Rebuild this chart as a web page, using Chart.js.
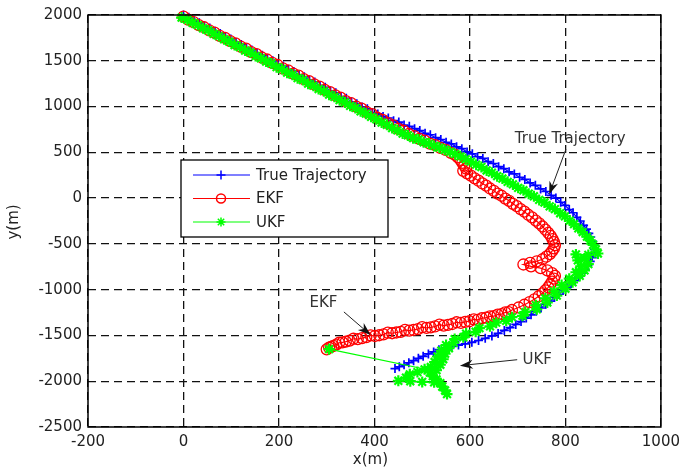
<!DOCTYPE html>
<html><head><meta charset="utf-8">
<script src="https://cdn.jsdelivr.net/npm/chart.js@4.4.1/dist/chart.umd.min.js"></script>
<style>html,body{margin:0;padding:0;background:#fff}#wrap{width:686px;height:475px}</style>
</head><body><div id="wrap"><canvas id="c" width="686" height="475"></canvas></div>
<script>
const xTicks = [-200, 0, 200, 400, 600, 800, 1000];
const yTicks = [-2500, -2000, -1500, -1000, -500, 0, 500, 1000, 1500, 2000];
const seriesNames = ['True Trajectory', 'EKF', 'UKF'];
const xTitle = 'x(m)';
const yTitle = 'y(m)';

const trueTrajectory = [[0,2000],[11,1975],[22,1938],[33,1915],[44,1880],[55,1858],[66,1822],[77,1798],[88,1760],[99,1738],[110,1700],[121,1678],[132,1640],[143,1618],[154,1582],[165,1560],[176,1522],[187,1500],[198,1462],[209,1442],[220,1404],[231,1384],[242,1345],[253,1325],[264,1288],[275,1268],[286,1228],[297,1210],[308,1168],[319,1150],[330,1110],[341,1090],[352,1052],[363,1032],[374,994],[385,975],[396,935],[407,920],[418,892],[429,875],[440,846],[451,830],[462,798],[473,785],[484,758],[495,738],[506,708],[517,692],[528,660],[539,640],[550,610],[561,592],[572,560],[583,540],[594,505],[605,484],[616,452],[627,434],[638,398],[649,378],[660,343],[671,322],[682,287],[693,264],[704,228],[715,204],[726,166],[737,140],[748,100],[759,72],[770,30],[780,0],[790,-45],[799,-80],[808,-125],[816,-160],[824,-210],[831,-250],[838,-298],[844,-338],[849,-386],[853,-425],[857,-472],[860,-515],[861,-560],[859,-605],[856,-650],[852,-690],[847,-735],[841,-775],[835,-820],[828,-860],[820,-900],[812,-935],[803,-975],[795,-1010],[786,-1050],[777,-1085],[768,-1125],[759,-1160],[749,-1200],[739,-1235],[728,-1275],[718,-1310],[707,-1348],[696,-1380],[684,-1415],[672,-1445],[659,-1478],[646,-1505],[632,-1532],[618,-1555],[604,-1575],[590,-1592],[576,-1605],[562,-1620],[548,-1635],[535,-1655],[524,-1680],[513,-1702],[502,-1728],[492,-1750],[482,-1776],[472,-1798],[462,-1820],[452,-1842],[443,-1862]];

const ekfEstimate = [[0,1982],[10,1950],[21,1923],[32,1890],[43,1866],[54,1833],[65,1808],[76,1773],[87,1750],[98,1714],[109,1690],[120,1654],[131,1632],[142,1594],[153,1572],[164,1536],[175,1514],[186,1478],[197,1454],[208,1418],[219,1396],[230,1360],[241,1338],[252,1300],[263,1278],[274,1242],[285,1218],[296,1182],[307,1158],[318,1122],[329,1098],[340,1060],[351,1038],[362,1000],[373,978],[384,940],[395,918],[406,878],[417,854],[428,818],[439,794],[450,756],[461,736],[472,700],[483,678],[494,648],[505,628],[516,596],[527,578],[538,548],[549,526],[560,495],[568,475],[575,445],[580,418],[584,385],[588,355],[592,322],[586,298],[594,270],[602,245],[610,216],[618,190],[626,160],[634,136],[642,105],[650,80],[658,50],[666,26],[674,-5],[682,-30],[690,-62],[698,-88],[706,-120],[714,-148],[722,-182],[730,-210],[738,-245],[745,-275],[752,-310],[758,-345],[764,-380],[769,-412],[773,-448],[776,-480],[778,-515],[776,-548],[772,-580],[767,-612],[760,-640],[752,-668],[740,-690],[726,-708],[712,-725],[728,-745],[748,-765],[762,-790],[772,-820],[778,-850],[776,-880],[772,-912],[768,-945],[764,-975],[758,-1008],[752,-1040],[744,-1072],[735,-1105],[725,-1135],[714,-1165],[702,-1195],[688,-1222],[681,-1245],[674,-1248],[666,-1268],[658,-1272],[650,-1290],[642,-1292],[634,-1305],[625,-1312],[616,-1330],[608,-1325],[599,-1345],[590,-1352],[581,-1362],[572,-1356],[563,-1375],[554,-1384],[545,-1392],[536,-1382],[527,-1402],[518,-1412],[509,-1418],[500,-1410],[491,-1430],[482,-1440],[473,-1448],[464,-1440],[455,-1460],[446,-1468],[437,-1476],[428,-1470],[419,-1488],[410,-1498],[401,-1506],[392,-1500],[383,-1518],[374,-1530],[365,-1540],[356,-1536],[348,-1556],[340,-1568],[333,-1575],[326,-1580],[320,-1600],[314,-1614],[309,-1625],[305,-1632],[300,-1652]];

const ukfEstimate = [[-4,1972],[8,1948],[19,1915],[30,1890],[41,1855],[52,1832],[63,1795],[74,1770],[85,1735],[96,1710],[107,1672],[118,1650],[129,1612],[140,1590],[151,1552],[162,1528],[173,1492],[184,1470],[195,1430],[206,1410],[217,1370],[228,1348],[239,1310],[250,1290],[261,1250],[272,1228],[283,1192],[294,1168],[305,1130],[316,1106],[327,1070],[338,1045],[349,1008],[360,985],[371,948],[382,922],[393,888],[404,860],[415,825],[426,800],[437,765],[448,740],[459,705],[470,685],[481,655],[492,640],[503,610],[514,596],[525,570],[536,552],[547,528],[558,506],[569,480],[580,456],[591,425],[602,398],[613,365],[624,340],[635,302],[646,278],[657,240],[668,214],[679,178],[690,150],[701,112],[712,86],[723,48],[734,20],[745,-20],[756,-48],[767,-90],[778,-120],[789,-165],[799,-200],[809,-245],[818,-285],[827,-330],[836,-370],[845,-420],[852,-462],[858,-510],[864,-560],[868,-605],[848,-620],[822,-615],[840,-660],[826,-680],[848,-720],[832,-745],[840,-790],[822,-810],[830,-850],[808,-880],[815,-920],[792,-950],[800,-990],[776,-1020],[782,-1065],[758,-1095],[762,-1140],[738,-1170],[740,-1215],[716,-1245],[710,-1285],[688,-1300],[676,-1340],[655,-1360],[642,-1400],[620,-1420],[612,-1460],[592,-1480],[586,-1520],[568,-1540],[566,-1580],[550,-1605],[556,-1640],[540,-1665],[548,-1700],[532,-1730],[544,-1760],[526,-1790],[538,-1820],[518,-1845],[530,-1880],[505,-1870],[490,-1900],[474,-1925],[466,-1960],[450,-1995],[475,-2000],[500,-2008],[525,-2012],[552,-2140],[548,-2100],[542,-2060],[538,-2020],[530,-1980],[522,-1945],[516,-1905],[512,-1875],[305,-1650]];

// text callouts: label anchor, arrow start, arrow tip (data units)
const callouts = [
  {text: 'True Trajectory', at: [810, 642], from: [801, 533], to: [766, 40]},
  {text: 'EKF', at: [293, -1142], from: [336, -1243], to: [392, -1495]},
  {text: 'UKF', at: [741, -1765], from: [699, -1765], to: [579, -1830]}
];

const FONT = 'DejaVu Sans';
const toXY = arr => arr.map(p => ({x: p[0], y: p[1]}));

const styles = [
  {color: '#0000ff', pointStyle: 'cross', radius: 4.5, bw: 1.7, fill: '#0000ff', order: 3},
  {color: '#ff0000', pointStyle: 'circle', radius: 5.5, bw: 1.3, fill: 'rgba(0,0,0,0)', order: 2},
  {color: '#00ff00', pointStyle: 'star', radius: 5.5, bw: 2.2, fill: '#00ff00', order: 1}
];
const seriesData = [trueTrajectory, ekfEstimate, ukfEstimate];

const datasets = seriesData.map((d, i) => ({
  label: seriesNames[i],
  data: toXY(d),
  showLine: true,
  borderColor: styles[i].color,
  backgroundColor: styles[i].fill,
  borderWidth: 1.2,
  pointStyle: styles[i].pointStyle,
  pointRadius: styles[i].radius,
  pointBorderWidth: styles[i].bw,
  pointBorderColor: styles[i].color,
  pointBackgroundColor: styles[i].fill,
  order: styles[i].order,
  tension: 0,
  clip: 6
}));

function drawArrow(ctx, x1, y1, x2, y2) {
  const a = Math.atan2(y2 - y1, x2 - x1);
  const L = 13, W = 4.5;
  ctx.save();
  ctx.strokeStyle = '#222'; ctx.fillStyle = '#111'; ctx.lineWidth = 1;
  ctx.beginPath(); ctx.moveTo(x1, y1);
  ctx.lineTo(x2 - Math.cos(a) * L * 0.6, y2 - Math.sin(a) * L * 0.6); ctx.stroke();
  ctx.beginPath();
  ctx.moveTo(x2, y2);
  ctx.lineTo(x2 - Math.cos(a) * L - Math.sin(a) * W, y2 - Math.sin(a) * L + Math.cos(a) * W);
  ctx.lineTo(x2 - Math.cos(a) * L * 0.7, y2 - Math.sin(a) * L * 0.7);
  ctx.lineTo(x2 - Math.cos(a) * L + Math.sin(a) * W, y2 - Math.sin(a) * L - Math.cos(a) * W);
  ctx.closePath(); ctx.fill();
  ctx.restore();
}

const decor = {
  id: 'decor',
  afterDatasetsDraw(chart) {
    const ctx = chart.ctx, a = chart.chartArea;
    const xs = chart.scales.x, ys = chart.scales.y;
    ctx.save();
    ctx.strokeStyle = '#000'; ctx.lineWidth = 1.5;
    ctx.strokeRect(a.left, a.top, a.right - a.left, a.bottom - a.top);
    ctx.restore();
    ctx.save();
    ctx.font = '15px "' + FONT + '"';
    ctx.fillStyle = '#333';
    ctx.textAlign = 'center'; ctx.textBaseline = 'middle';
    callouts.forEach(c => {
      ctx.fillText(c.text, xs.getPixelForValue(c.at[0]), ys.getPixelForValue(c.at[1]));
      drawArrow(ctx, xs.getPixelForValue(c.from[0]), ys.getPixelForValue(c.from[1]),
                xs.getPixelForValue(c.to[0]), ys.getPixelForValue(c.to[1]));
    });
    ctx.restore();
    const lx = a.left + 93, ly = a.top + 145, lw = 207, lh = 77;
    ctx.save();
    ctx.fillStyle = '#fff'; ctx.fillRect(lx, ly, lw, lh);
    ctx.strokeStyle = '#000'; ctx.lineWidth = 1.3; ctx.strokeRect(lx, ly, lw, lh);
    ctx.font = '15px "' + FONT + '"';
    ctx.textAlign = 'left'; ctx.textBaseline = 'middle';
    seriesNames.forEach((name, i) => {
      const y = ly + 15 + i * 23.5;
      const st = styles[i];
      ctx.strokeStyle = st.color; ctx.lineWidth = 1.2;
      ctx.beginPath(); ctx.moveTo(lx + 12, y); ctx.lineTo(lx + 69, y); ctx.stroke();
      ctx.fillStyle = st.fill; ctx.strokeStyle = st.color; ctx.lineWidth = 1.5;
      Chart.helpers.drawPoint(ctx, {pointStyle: st.pointStyle, radius: 4.5, borderWidth: 1.5, rotation: 0}, lx + 40, y);
      ctx.fillStyle = '#222';
      ctx.fillText(name, lx + 75, y + 1);
    });
    ctx.restore();
    ctx.save();
    ctx.font = '15px "' + FONT + '"';
    ctx.fillStyle = '#222'; ctx.textAlign = 'center'; ctx.textBaseline = 'middle';
    ctx.fillText(xTitle, (a.left + a.right) / 2 - 4, 460);
    ctx.translate(14, (a.top + a.bottom) / 2 + 1);
    ctx.rotate(-Math.PI / 2);
    ctx.fillText(yTitle, 0, 0);
    ctx.restore();
  }
};

new Chart(document.getElementById('c'), {
  type: 'scatter',
  data: {datasets},
  options: {
    responsive: false,
    animation: false,
    devicePixelRatio: 1,
    layout: {padding: {left: 0, right: 21, top: 15, bottom: 0}},
    plugins: {legend: {display: false}, tooltip: {enabled: false}},
    scales: {
      x: {
        type: 'linear', min: -200, max: 1000,
        afterBuildTicks: s => { s.ticks = xTicks.map(v => ({value: v})); },
        afterFit: s => { s.height = 48; },
        grid: {color: '#111', lineWidth: 1.3, drawTicks: false},
        border: {display: false, dash: [8, 5]},
        ticks: {padding: 6, color: '#222', font: {family: FONT, size: 15}, maxRotation: 0, autoSkip: false,
                callback: v => String(v)}
      },
      y: {
        type: 'linear', min: -2500, max: 2000,
        afterBuildTicks: s => { s.ticks = yTicks.map(v => ({value: v})); },
        afterFit: s => { s.width = 88; },
        grid: {color: '#111', lineWidth: 1.3, drawTicks: false},
        border: {display: false, dash: [8, 5]},
        ticks: {padding: 6, color: '#222', font: {family: FONT, size: 15}, autoSkip: false,
                callback: v => String(v)}
      }
    }
  },
  plugins: [decor]
});
</script></body></html>
